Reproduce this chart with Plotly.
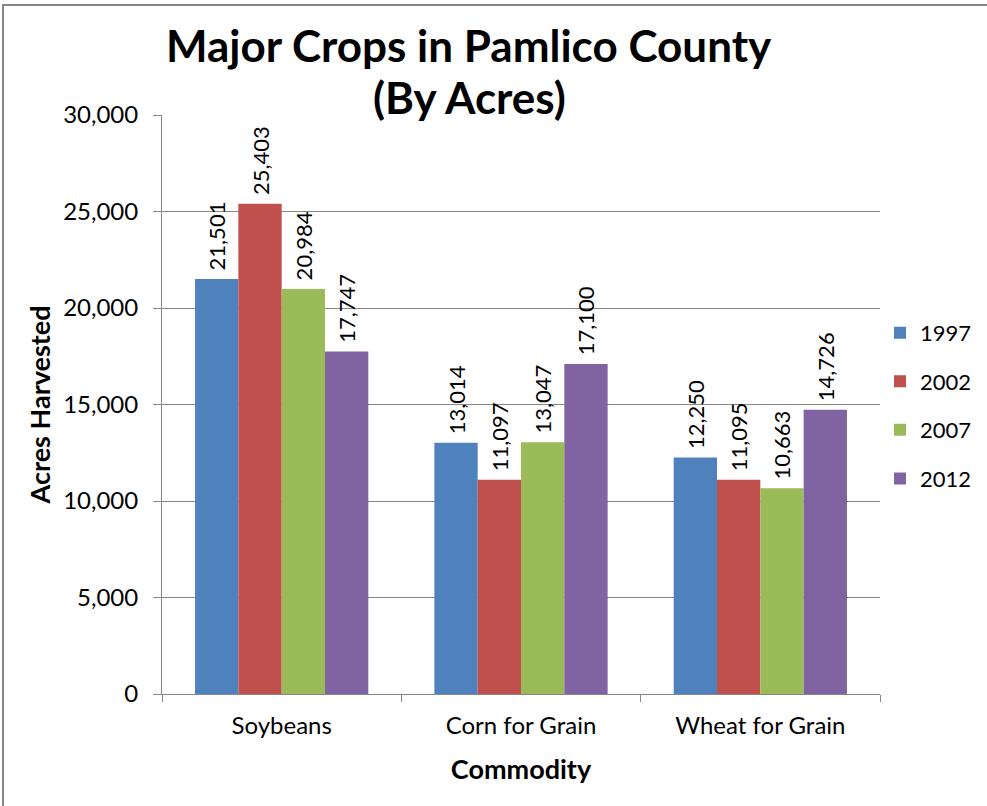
import plotly.graph_objects as go

categories = ["Soybeans", "Corn for Grain", "Wheat for Grain"]
years = ["1997", "2002", "2007", "2012"]
v1997 = [21501, 13014, 12250]
v2002 = [25403, 11097, 11095]
v2007 = [20984, 13047, 10663]
v2012 = [17747, 17100, 14726]
series = [v1997, v2002, v2007, v2012]
colors = ["#4F81BD", "#C0504D", "#9BBB59", "#8064A2"]
title_lines = ["Major Crops in Pamlico County", "(By Acres)"]

FONT = "Lato"
fig = go.Figure()
for yr, vals, col in zip(years, series, colors):
    fig.add_trace(go.Bar(
        x=categories, y=vals, name=yr, legendgroup=yr,
        marker=dict(color=col, line=dict(width=0)),
        text=[f"\u00a0{v:,}" for v in vals], textposition="outside",
        textangle=-90, constraintext="none",
        textfont=dict(size=22, color="black", family=FONT),
        cliponaxis=False,
    ))

fig.update_layout(
    width=987, height=806,
    margin=dict(l=162, r=107, t=115, b=112, autoexpand=False),
    paper_bgcolor="white", plot_bgcolor="white",
    barmode="group", bargap=0.276, bargroupgap=0,
    font=dict(family=FONT, color="black", size=22),
    legend=dict(x=1.0, y=0.66, xanchor="left", yanchor="top",
                font=dict(size=22, family=FONT), tracegroupgap=17,
                itemwidth=30, bgcolor="rgba(0,0,0,0)"),
    showlegend=True,
)
# title (two centred lines)
for txt, ypix in zip(title_lines, [45, 97]):
    fig.add_annotation(text=f"<b>{txt}</b>", xref="paper", yref="paper",
                       x=(469-162)/718, y=(694-ypix)/579, xanchor="center", yanchor="middle",
                       showarrow=False, font=dict(size=44, family=FONT, color="black"))
fig.update_xaxes(
    title=dict(text="<b>Commodity</b>", font=dict(size=27, family=FONT), standoff=22),
    showline=True, linecolor="#868686", linewidth=1,
    ticks="outside", tickson="boundaries", ticklen=7, tickcolor="#868686",
    tickfont=dict(size=24, family=FONT), ticklabelstandoff=10,
)
fig.update_yaxes(
    title=dict(text="<b>Acres Harvested</b>", font=dict(size=27, family=FONT), standoff=4),
    range=[0, 30000], tickvals=[0, 5000, 10000, 15000, 20000, 25000, 30000],
    tickformat=",", showgrid=True, gridcolor="#868686", gridwidth=1,
    showline=True, linecolor="#868686", linewidth=1,
    ticks="outside", ticklen=8, tickcolor="#868686",
    tickfont=dict(size=24, family=FONT), zeroline=False, ticklabelstandoff=10,
)
# outer chart-area border
fig.add_shape(type="rect", xref="paper", yref="paper",
              x0=(3-162)/718, x1=1.3, y0=-0.5, y1=(694-5)/579,
              line=dict(color="#868686", width=2), fillcolor="rgba(0,0,0,0)", layer="below")
fig.write_html("out.html")
